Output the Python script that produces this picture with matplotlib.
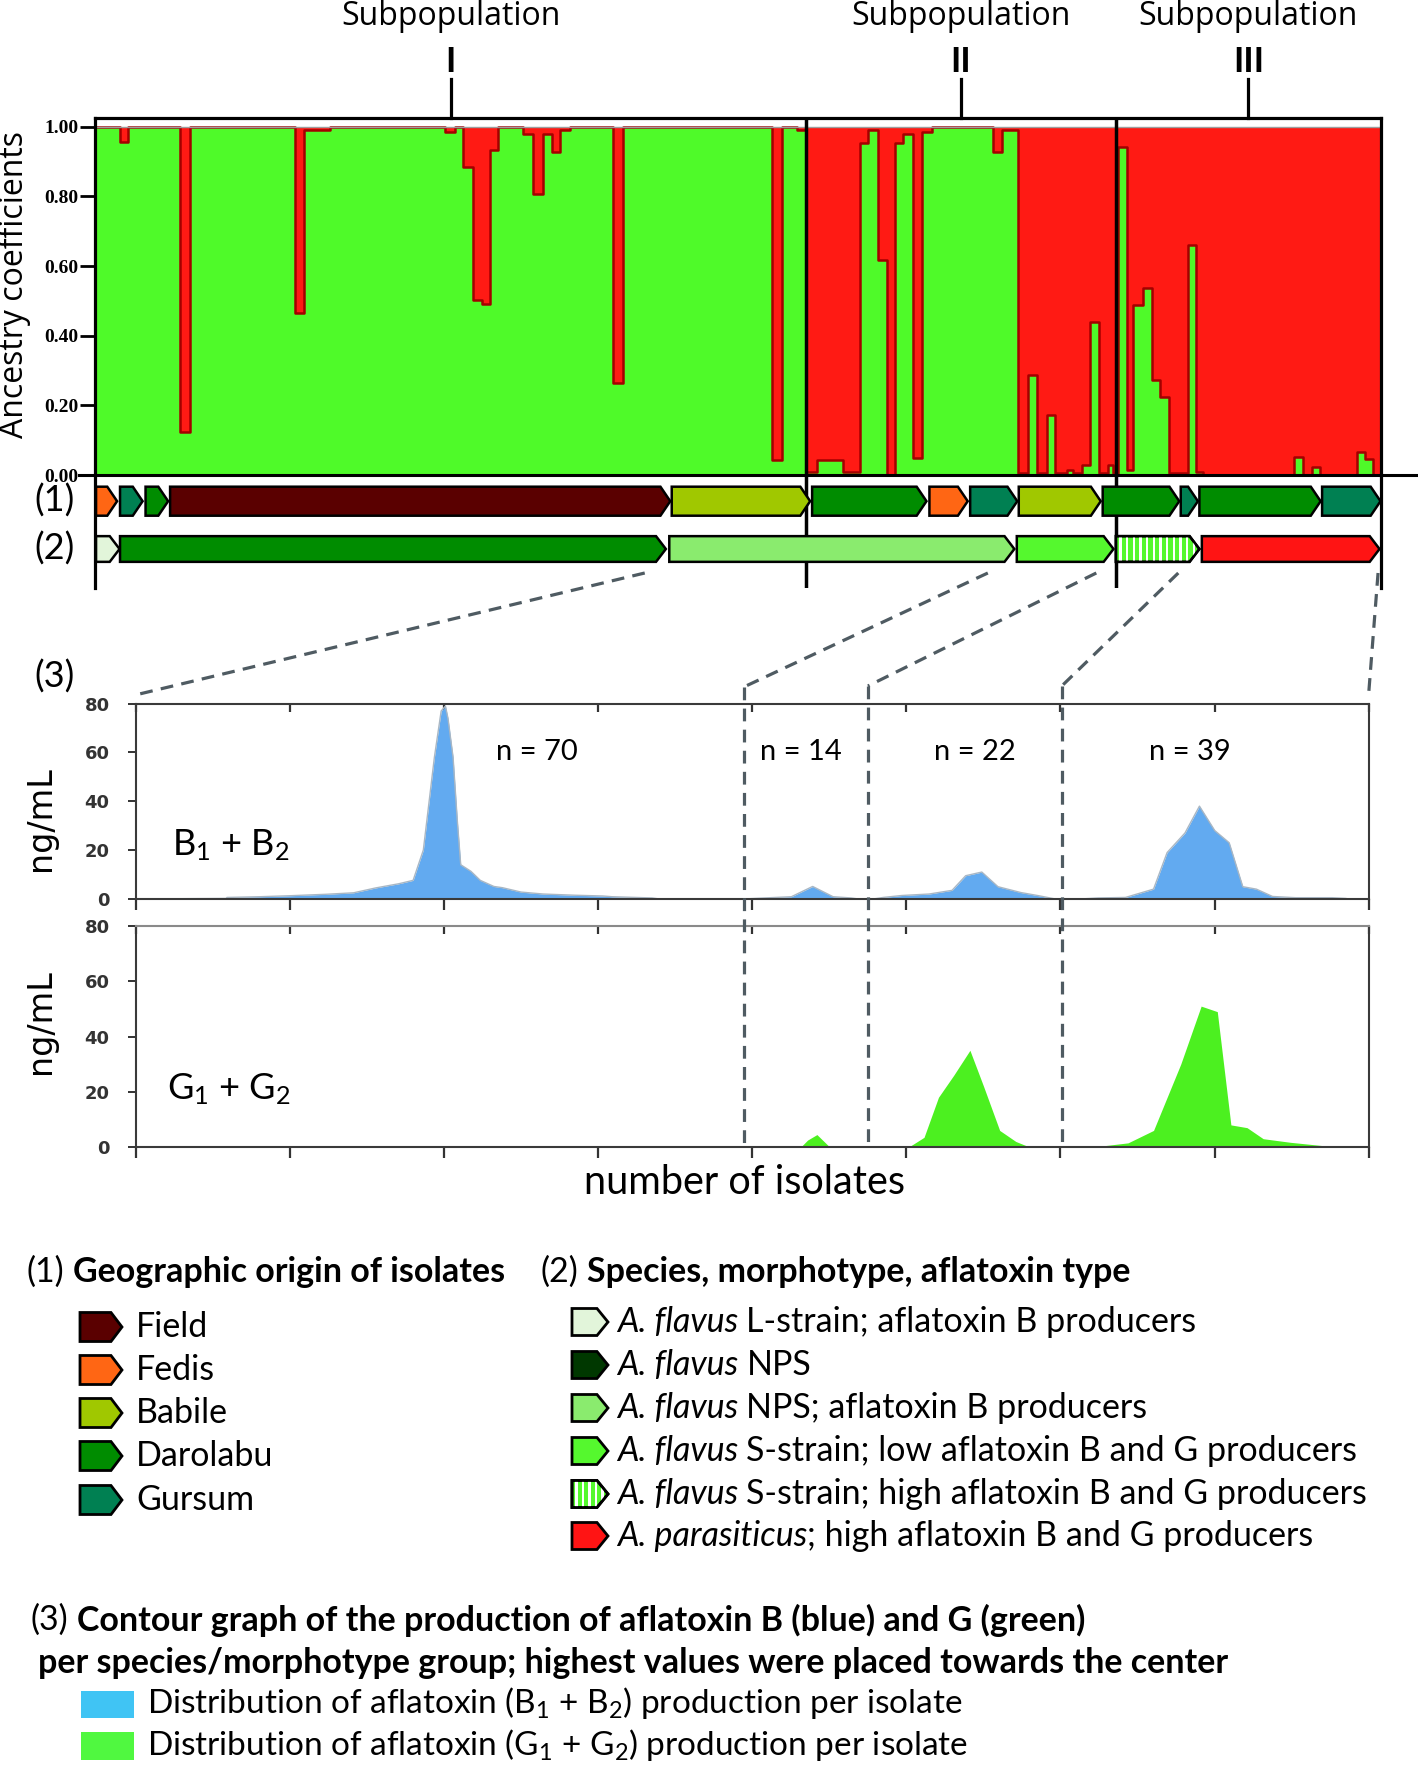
import numpy as np
import matplotlib
matplotlib.use("Agg")
import matplotlib.pyplot as plt
from matplotlib.patches import Polygon, Rectangle
from matplotlib.transforms import blended_transform_factory

# ------------------------------------------------------------------ data
# STRUCTURE (K = 2) plot: share of the green cluster, run-length encoded
anc_edges = [0, 5.1, 6.7, 17.3, 19.4, 40.8, 42.6, 47.9, 71.3, 73.3, 75.0, 77.0, 78.8,
             80.5, 82.1, 87.2, 89.2, 91.3, 93.1, 94.7, 96.8, 105.5, 107.6, 137.9, 140.0,
             143.0, 144.9, 147.1, 152.4, 155.9, 157.5, 159.5, 161.4, 163.0, 164.6, 166.7,
             168.5, 170.5, 183.0, 184.8, 188.0, 190.1, 191.9, 194.0, 195.6, 198.0, 199.3,
             201.1, 202.7, 204.6, 206.4, 207.4, 208.4, 210.3, 211.5, 213.5, 215.4, 217.0,
             218.8, 222.7, 224.3, 225.7, 244.3, 246.1, 247.9, 249.6, 257.1, 258.7, 260.4,
             262.0]
anc_green = [1.0, 0.955, 1.0, 0.124, 1.0, 0.464, 0.99, 1.0, 0.985, 1.0, 0.885, 0.502,
             0.49, 0.933, 1.0, 0.98, 0.807, 0.98, 0.928, 0.99, 1.0, 0.264, 1.0, 0.043,
             1.0, 0.99, 0.01, 0.043, 0.01, 0.952, 0.99, 0.617, 0.0, 0.952, 0.98, 0.048,
             0.985, 1.0, 0.928, 0.99, 0.005, 0.287, 0.005, 0.172, 0.005, 0.014, 0.005,
             0.029, 0.44, 0.005, 0.029, 0.005, 0.943, 0.014, 0.488, 0.537, 0.273, 0.225,
             0.005, 0.66, 0.01, 0.0, 0.052, 0.0, 0.024, 0.0, 0.067, 0.046, 0.0]
subpop_labels = ['I', 'II', 'III']
subpop_bounds = [0, 144.9, 208.0, 262.0]

# (1) geographic origin
origin_names = ['Field', 'Fedis', 'Babile', 'Darolabu', 'Gursum']
origin_colors = ['#5a0000', '#ff6614', '#a0c800', '#008c00', '#008052']
row1_origin = ['Fedis', 'Gursum', 'Darolabu', 'Field', 'Babile', 'Darolabu', 'Fedis',
               'Gursum', 'Babile', 'Darolabu', 'Gursum', 'Darolabu', 'Gursum']
row1_start = [0.2, 5.1, 10.3, 15.3, 117.5, 146.1, 170.0, 178.3, 188.2, 205.3, 221.2, 225.0, 250.0]
row1_end = [4.5, 9.7, 14.9, 117.2, 145.7, 169.4, 177.8, 187.9, 204.9, 220.9, 224.7, 249.7, 261.9]

# (2) species / morphotype / aflatoxin type
type_italic = ['A. flavus', 'A. flavus', 'A. flavus', 'A. flavus', 'A. flavus', 'A. parasiticus']
type_rest = [' L-strain; aflatoxin B producers', ' NPS', ' NPS; aflatoxin B producers',
             ' S-strain; low aflatoxin B and G producers',
             ' S-strain; high aflatoxin B and G producers',
             '; high aflatoxin B and G producers']
type_colors = ['#e2f5da', '#003800', '#8aeb6e', '#55f82e', '#55f82e', '#ff1414']
type_striped = [False, False, False, False, True, False]
row2_colors = ['#e2f5da', '#008c00', '#8aeb6e', '#55f82e', '#55f82e', '#ff1414']
row2_start = [0.2, 5.1, 117.0, 187.8, 208.0, 225.5]
row2_end = [5.0, 116.3, 187.3, 207.5, 225.0, 261.7]

# (3) aflatoxin production per group
group_n = [70, 14, 22, 39]
group_edges = [0, 71.5, 86.1, 108.9, 145]
n_label_x = [47.1, 78.2, 98.7, 124.0]
b_x = [[1.9, 10.6, 10.7, 14.6, 18.1, 22.4, 25.6, 28.2, 30.9, 32.6, 33.8, 35.1, 35.9, 36.4,
        36.7, 37.3, 37.8, 38.2, 39.4, 40.5, 42.1, 43.1, 45.3, 47.9, 51.7, 54.9, 56.0, 60.7, 61.5],
       [71.7, 73.4, 77.1, 79.6, 82.0, 84.1, 84.9],
       [86.8, 87.9, 90.1, 93.3, 96.0, 97.6, 99.5, 101.4, 104.1, 106.2, 108.1],
       [111.3, 113.2, 116.4, 119.7, 121.3, 123.4, 125.1, 126.9, 128.6, 130.2, 131.8, 133.7,
        136.4, 140.7, 142.3, 142.6]]
b_y = [[0, 0.2, 0.6, 0.9, 1.3, 1.9, 2.5, 4.5, 6.2, 7.6, 20, 58, 77, 79, 74, 58, 32, 14,
        11.3, 7.6, 5.1, 4.6, 2.8, 2.0, 1.5, 1.2, 0.9, 0.4, 0],
       [0, 0.3, 0.9, 5.1, 0.9, 0.4, 0],
       [0, 0.6, 1.4, 2.0, 3.5, 9.5, 11.0, 5.0, 2.6, 1.3, 0],
       [0, 0.4, 0.6, 4.0, 19, 27, 38, 28, 23, 5.0, 4.0, 1.0, 0.5, 0.5, 0.2, 0]]
g_x = [[],
       [78.2, 79.0, 80.1, 81.6],
       [90.9, 92.7, 94.4, 96.2, 98.1, 99.7, 101.6, 103.5, 105.1],
       [112.6, 116.7, 119.7, 122.9, 125.3, 127.2, 128.8, 130.7, 132.6, 135.8, 139.6, 139.9]]
g_y = [[],
       [0, 2.5, 4.5, 0],
       [0, 3.5, 18, 26, 35, 22, 6, 2, 0],
       [0, 1.5, 6, 30, 51, 49, 8, 7, 3, 1.7, 0.5, 0]]
panel_ticks_y = [0, 20, 40, 60, 80]

# ------------------------------------------------------------------ style
plt.rcParams['font.family'] = ['Lato', 'DejaVu Sans']
plt.rcParams['mathtext.fontset'] = 'custom'
plt.rcParams['mathtext.rm'] = 'Lato'
plt.rcParams['mathtext.it'] = 'Lato:italic'
plt.rcParams['mathtext.bf'] = 'Lato:bold'

W, H = 1418, 1767
fig = plt.figure(figsize=(W / 100, H / 100), dpi=100)
fig.patch.set_facecolor('white')


def rect(l, t, r, b):
    return [l / W, 1 - b / H, (r - l) / W, (b - t) / H]


GREEN = '#4ffa29'
RED = '#ff1a14'
OUTLINE = '#a30000'
BLUE = '#62aaf0'
GFILL = '#4cf020'
DASH = '#4f5b62'

canvas = fig.add_axes([0, 0, 1, 1], zorder=10)
canvas.set_xlim(0, W)
canvas.set_ylim(H, 0)
canvas.axis('off')
canvas.patch.set_alpha(0)


def pent(ax, x0, x1, yc, h, tip, fc, lw=1.8, zorder=2):
    pts = [(x0, yc - h / 2), (x1 - tip, yc - h / 2), (x1, yc),
           (x1 - tip, yc + h / 2), (x0, yc + h / 2)]
    p = Polygon(pts, closed=True, fc=fc, ec='black', lw=lw, joinstyle='miter', zorder=zorder)
    ax.add_patch(p)
    return p


def stripes(ax, poly, x0, x1, yc, h, step, width, zorder=2):
    for sx in np.arange(x0 + step * 0.5, x1, step):
        r = Rectangle((sx, yc - h / 2), width, h, fc='white', ec='none', zorder=zorder)
        ax.add_patch(r)
        r.set_clip_path(poly)


# ------------------------------------------------------------------ structure plot
ax_s = fig.add_axes(rect(95, 118, 1381, 475))
N = anc_edges[-1]
xe = np.array(anc_edges)
ge = np.append(anc_green, anc_green[-1])
ax_s.fill_between(xe, 0, ge, step='post', color=GREEN, lw=0)
ax_s.fill_between(xe, ge, 1.0, step='post', color=RED, lw=0)
ax_s.step(xe, ge, where='post', color=OUTLINE, lw=1.8)
ax_s.axhline(1.0, color='#9d9d9d', lw=1.0)
ax_s.set_xlim(0, N)
ax_s.set_ylim(0, 1.025)
ax_s.set_xticks([])
yt = [0, 0.2, 0.4, 0.6, 0.8, 1.0]
ax_s.set_yticks(yt)
ax_s.set_yticklabels([f'{v:.2f}' for v in yt], fontfamily='Liberation Serif',
                     fontweight='bold', fontsize=14)
ax_s.tick_params(axis='y', length=11, width=2, pad=1)
for s in ['left', 'top', 'right']:
    ax_s.spines[s].set_linewidth(2.3)
ax_s.spines['bottom'].set_visible(False)
for b in subpop_bounds[1:-1]:
    ax_s.axvline(b, color='black', lw=2.5)

canvas.plot([79, W], [475, 475], color='black', lw=2.2)
canvas.text(14, 284, 'Ancestry coefficients', rotation=90, fontfamily='Open Sans',
            fontsize=23, ha='center', va='center')

tr = blended_transform_factory(ax_s.transData, canvas.transData)
for i, lab in enumerate(subpop_labels):
    c = (subpop_bounds[i] + subpop_bounds[i + 1]) / 2
    canvas.text(c, 25, 'Subpopulation', transform=tr, fontfamily='Open Sans',
                fontsize=23, ha='center', va='baseline')
    canvas.text(c, 62, lab, transform=tr, fontweight='bold', fontsize=25,
                ha='center', va='center')
    canvas.plot([c, c], [79, 118], transform=tr, color='black', lw=2.3)

# ------------------------------------------------------------------ arrow rows
ax_a = fig.add_axes(rect(95, 475, 1381, 588))
ax_a.set_xlim(0, N)
ax_a.set_ylim(113, 0)
ax_a.set_xticks([])
ax_a.set_yticks([])
ax_a.patch.set_alpha(0)
ax_a.spines['top'].set_visible(False)
ax_a.spines['bottom'].set_visible(False)
for s in ['left', 'right']:
    ax_a.spines[s].set_linewidth(2.3)
for b in subpop_bounds[1:-1]:
    ax_a.axvline(b, color='black', lw=2.5, zorder=0)

TIP = 2.0
for s0, e0, o in zip(row1_start, row1_end, row1_origin):
    pent(ax_a, s0, e0, 26.2, 29, TIP, origin_colors[origin_names.index(o)])
for k, (s0, e0, c) in enumerate(zip(row2_start, row2_end, row2_colors)):
    p = pent(ax_a, s0, e0, 74, 25.7, TIP, c)
    if type_striped[k]:
        stripes(ax_a, p, s0, e0, 74, 25.7, 1.36, 0.5)
        pent(ax_a, s0, e0, 74, 25.7, TIP, 'none', zorder=3)

canvas.text(54, 501, '(1)', fontsize=26, ha='center', va='center')
canvas.text(54, 549, '(2)', fontsize=26, ha='center', va='center')
canvas.text(54, 677, '(3)', fontsize=26, ha='center', va='center')

# ------------------------------------------------------------------ aflatoxin panels
ax_b = fig.add_axes(rect(136, 703.6, 1368.6, 898.9))
ax_g = fig.add_axes(rect(136, 926, 1368.6, 1147))
xt = np.linspace(group_edges[0], group_edges[-1], 9)
for ax in (ax_b, ax_g):
    ax.set_xlim(group_edges[0], group_edges[-1])
    ax.set_ylim(0, 80)
    ax.set_yticks(panel_ticks_y)
    ax.set_xticks(xt)
    ax.set_xticklabels([])
    ax.tick_params(axis='x', direction='out', length=8, width=1.6, color='#333333')
    ax.tick_params(axis='y', direction='out', length=6, width=1.4, color='#333333',
                   pad=13, labelsize=13, labelcolor='#333333')
    for lab in ax.get_yticklabels():
        lab.set_fontfamily('DejaVu Sans')
        lab.set_fontweight('bold')
    for s in ax.spines.values():
        s.set_linewidth(1.5)
        s.set_color('#3a3a3a')
    sec = ax.secondary_xaxis('top')
    sec.set_xticks(xt)
    sec.set_xticklabels([])
    sec.tick_params(direction='in', length=6, width=1.6, color='#333333')
    for s in sec.spines.values():
        s.set_visible(False)
ax_g.spines['top'].set_color('#8a8a8a')

for xs, ys in zip(b_x, b_y):
    ax_b.fill_between(xs, 0, ys, color=BLUE, lw=0)
    ax_b.plot(xs, ys, color='#a9b7c4', lw=1.0)
for xs, ys in zip(g_x, g_y):
    if len(xs):
        ax_g.fill_between(xs, 0, ys, color=GFILL, lw=0)

for x, n in zip(n_label_x, group_n):
    ax_b.text(x, 60, f'n = {n}', fontsize=21, ha='center', va='center')
ax_b.text(4.2, 17.8, 'B$_1$ + B$_2$', fontsize=26, ha='left', va='baseline')
ax_g.text(3.7, 17.3, 'G$_1$ + G$_2$', fontsize=26, ha='left', va='baseline')

canvas.text(40, 819, 'ng/mL', rotation=90, fontfamily='DejaVu Sans', fontsize=24,
            ha='center', va='center')
canvas.text(40, 1022, 'ng/mL', rotation=90, fontfamily='DejaVu Sans', fontsize=24,
            ha='center', va='center')
canvas.text(744, 1182, 'number of isolates', fontsize=28.5, ha='center', va='center')


def to_canvas(ax, x, y):
    return canvas.transData.inverted().transform(ax.transData.transform((x, y)))


dash_kw = dict(color=DASH, lw=2.3, linestyle=(0, (4, 2.6)), solid_capstyle='butt')
top_gap = [83.6, 86.8, 87.2, 87.2, 83.6]
start_back = [4.3, 5.4, 3.5, 4.3, 0.3]
for k in range(5):
    p0 = to_canvas(ax_a, row2_end[k + 1] - start_back[k], 98)
    p1 = to_canvas(ax_b, group_edges[k], top_gap[k])
    canvas.plot([p0[0], p1[0]], [p0[1], p1[1]], **dash_kw)
for k in range(1, 4):
    p1 = to_canvas(ax_b, group_edges[k], top_gap[k])
    p2 = to_canvas(ax_g, group_edges[k], -0.4)
    canvas.plot([p1[0], p2[0]], [p1[1], p2[1]], **dash_kw)

# ------------------------------------------------------------------ legend
renderer = fig.canvas.get_renderer()
LEG = 24.5


def mixed(x, y, parts, size=LEG):
    cx = x
    for txt, kw in parts:
        lead = len(txt) - len(txt.lstrip(' '))
        if lead:
            cx += 0.24 * size * 100 / 72 * lead
        t = canvas.text(cx, y, txt.lstrip(' '), fontsize=size, ha='left', va='center', **kw)
        cx += t.get_window_extent(renderer).width
    return cx


mixed(27, 1272, [('(1)', {}), (' Geographic origin of isolates', {'fontweight': 'bold'})])
mixed(541, 1272, [('(2)', {}), (' Species, morphotype, aflatoxin type', {'fontweight': 'bold'})])

orig_y = [1327, 1370, 1413, 1456, 1500]
for name, col, y in zip(origin_names, origin_colors, orig_y):
    pent(canvas, 80, 122, y, 29, 11, col, lw=2)
    canvas.text(136, y, name, fontsize=LEG, ha='left', va='center')

type_y = [1322, 1365, 1408, 1451, 1494, 1536]
for it, rest, col, st, y in zip(type_italic, type_rest, type_colors, type_striped, type_y):
    p = pent(canvas, 572, 608, y, 27, 11, col, lw=2)
    if st:
        stripes(canvas, p, 572, 608, y, 27, 6.5, 2.4)
        pent(canvas, 572, 608, y, 27, 11, 'none', lw=2, zorder=3)
    mixed(617, y, [(it, {'fontstyle': 'italic'}), (rest, {})])

mixed(31, 1620, [('(3)', {}), (' Contour graph of the production of aflatoxin B (blue) and G (green)',
                                {'fontweight': 'bold'})])
canvas.text(38, 1663, 'per species/morphotype group; highest values were placed towards the center',
            fontsize=LEG, fontweight='bold', ha='left', va='center')
canvas.add_patch(Rectangle((81, 1691), 53, 27, fc='#40c4f4', ec='none'))
canvas.add_patch(Rectangle((81, 1732), 53, 28, fc='#50f840', ec='none'))
canvas.text(147, 1703, 'Distribution of aflatoxin (B$_1$ + B$_2$) production per isolate',
            fontsize=24, ha='left', va='center')
canvas.text(147, 1745, 'Distribution of aflatoxin (G$_1$ + G$_2$) production per isolate',
            fontsize=24, ha='left', va='center')

fig.savefig('out.png', dpi=100, facecolor='white')
